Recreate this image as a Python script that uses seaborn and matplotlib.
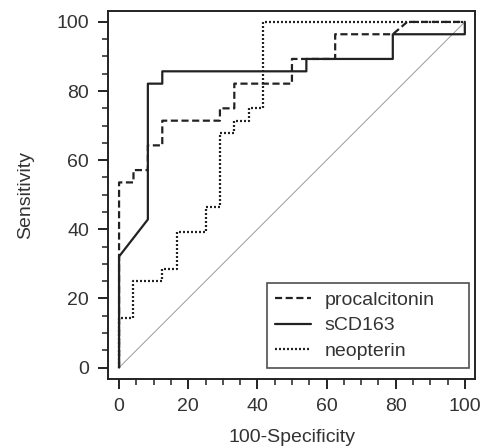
import matplotlib
matplotlib.use("Agg")
import matplotlib.pyplot as plt
from matplotlib.ticker import MultipleLocator
import numpy as np
import pandas as pd
import seaborn as sns

# ROC curves: 100-Specificity (x) vs Sensitivity (y), in percent
procalcitonin_x = [0, 0, 4.17, 4.17, 8.33, 8.33, 12.5, 12.5, 29.17, 29.17, 33.33, 33.33,
                   50, 50, 62.5, 62.5, 79.17, 83.33, 100]
procalcitonin_y = [0, 53.57, 53.57, 57.14, 57.14, 64.29, 64.29, 71.43, 71.43, 75, 75, 82.14,
                   82.14, 89.29, 89.29, 96.43, 96.43, 100, 100]

scd163_x = [0, 0, 8.33, 8.33, 12.5, 12.5, 54.17, 54.17, 79.17, 79.17, 100, 100]
scd163_y = [0, 32.14, 42.86, 82.14, 82.14, 85.71, 85.71, 89.29, 89.29, 96.43, 96.43, 100]

neopterin_x = [0, 0, 4.17, 4.17, 12.5, 12.5, 16.67, 16.67, 25, 25, 29.17, 29.17, 33.33,
               33.33, 37.5, 37.5, 41.67, 41.67, 100]
neopterin_y = [0, 14.29, 14.29, 25, 25, 28.57, 28.57, 39.29, 39.29, 46.43, 46.43, 67.86,
               67.86, 71.43, 71.43, 75, 75, 100, 100]

markers = ["procalcitonin", "sCD163", "neopterin"]
curves = {
    "procalcitonin": (procalcitonin_x, procalcitonin_y),
    "sCD163": (scd163_x, scd163_y),
    "neopterin": (neopterin_x, neopterin_y),
}

frames = []
for name in markers:
    xs, ys = curves[name]
    frames.append(pd.DataFrame({"spec": xs, "sens": ys, "marker": name}))
df = pd.concat(frames, ignore_index=True)

sns.set_style("ticks")
plt.rcParams["font.family"] = ["Liberation Sans", "DejaVu Sans"]

ink = "#222222"
txt = "#333333"
fig = plt.figure(figsize=(4.8, 4.48), dpi=100)
ax = fig.add_axes([0.225, 0.154, 0.765, 0.821])

# chance line
ax.plot([0, 100], [0, 100], color="#9a9a9a", lw=0.7, zorder=1)

sns.lineplot(data=df, x="spec", y="sens", style="marker", style_order=markers,
             dashes={"procalcitonin": (3.2, 1.6), "sCD163": "", "neopterin": (0.9, 0.9)},
             color=ink, lw=1.6, sort=False, estimator=None, ax=ax, legend=True)

ax.set_xlim(-3.2, 103)
ax.set_ylim(-3.3, 103.1)
ax.xaxis.set_major_locator(MultipleLocator(20))
ax.yaxis.set_major_locator(MultipleLocator(20))
ax.xaxis.set_minor_locator(MultipleLocator(5))
ax.yaxis.set_minor_locator(MultipleLocator(5))
ax.tick_params(which="major", direction="out", length=7, width=1.4, color=ink,
               labelsize=14, labelcolor=txt, pad=6.5)
ax.tick_params(which="minor", direction="out", length=4, width=1.1, color=ink)
ax.tick_params(top=False, right=False, which="both")
for s in ax.spines.values():
    s.set_linewidth(1.4)
    s.set_color(ink)

ax.set_xlabel("100-Specificity", fontsize=14, color=txt, labelpad=10)
ax.set_ylabel("Sensitivity", fontsize=14, color=txt, labelpad=16)

handles, labels = ax.get_legend_handles_labels()
leg = ax.legend(handles, labels, loc="lower left", mode="expand",
                bbox_to_anchor=(0.433, 0.030, 0.550, 0.228),
                bbox_transform=ax.transAxes, borderaxespad=0, fontsize=14,
                frameon=True, fancybox=False, edgecolor=ink, handlelength=1.85,
                handletextpad=0.72, labelspacing=0.42, borderpad=0.4)
leg.get_frame().set_linewidth(1.2)
for t in leg.get_texts():
    t.set_color(txt)
for h in leg.get_lines():
    h.set_linewidth(1.6)

fig.savefig("out.png", dpi=100)
